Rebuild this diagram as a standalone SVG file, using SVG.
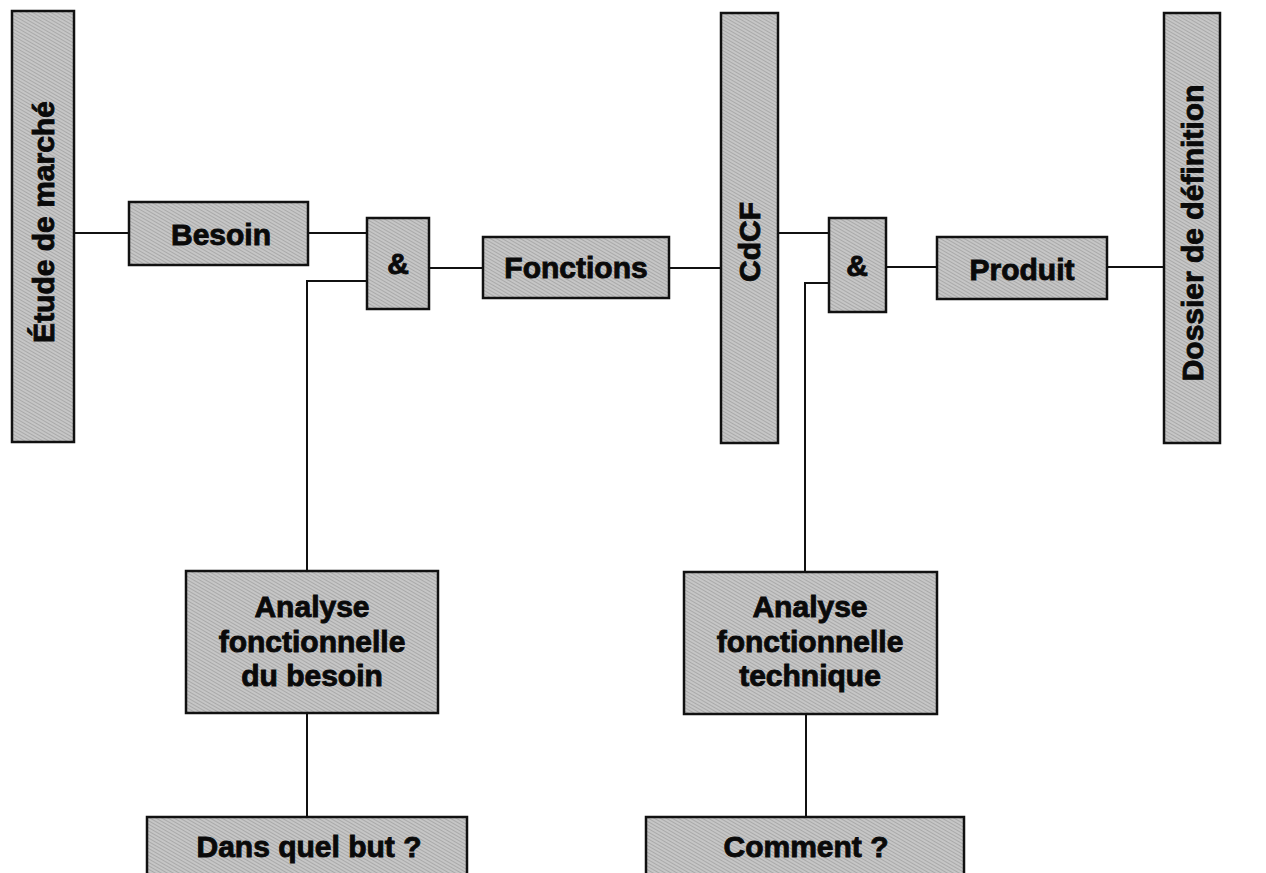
<svg xmlns="http://www.w3.org/2000/svg" width="1266" height="873" viewBox="0 0 1266 873">
<defs>
<pattern id="ht" width="3" height="3" patternUnits="userSpaceOnUse" patternTransform="rotate(30)">
<rect width="3" height="3" fill="#c6c6c6"/>
<rect width="3" height="1" fill="#a9a9a9"/>
</pattern>
</defs>
<style>
.box{fill:url(#ht);stroke:#111;stroke-width:2.5}
.t{font-family:"Liberation Sans",Arial,sans-serif;font-weight:bold;font-size:30px;fill:#0a0a0a;stroke:#0a0a0a;stroke-width:0.9;text-anchor:middle}
.c{fill:none;stroke:#111;stroke-width:2}
</style>
<rect width="1266" height="873" fill="#fff"/>
<g id="connectors">
<path class="c" d="M74 233H129"/>
<path class="c" d="M308 233H367"/>
<path class="c" d="M367 281H307V571"/>
<path class="c" d="M429 268H483"/>
<path class="c" d="M669 268H721"/>
<path class="c" d="M778 233H829"/>
<path class="c" d="M829 283H805V572"/>
<path class="c" d="M886 267H937"/>
<path class="c" d="M1107 267H1164"/>
<path class="c" d="M307 713V817"/>
<path class="c" d="M806 714V817"/>
</g>
<g id="etude"><rect class="box" x="12" y="11" width="62" height="431"/><text class="t" transform="translate(54,222) rotate(-90)">Étude de marché</text></g>
<g id="besoin"><rect class="box" x="129" y="202" width="179" height="63"/><text class="t" x="221" y="245">Besoin</text></g>
<g id="and1"><rect class="box" x="367" y="218" width="62" height="91"/><text class="t" x="398" y="274">&amp;</text></g>
<g id="fonctions"><rect class="box" x="483" y="237" width="186" height="61"/><text class="t" x="576" y="278">Fonctions</text></g>
<g id="cdcf"><rect class="box" x="721" y="13" width="57" height="430"/><text class="t" transform="translate(760,242) rotate(-90)">CdCF</text></g>
<g id="and2"><rect class="box" x="829" y="218" width="57" height="94"/><text class="t" x="857" y="276">&amp;</text></g>
<g id="produit"><rect class="box" x="937" y="237" width="170" height="62"/><text class="t" x="1022" y="280">Produit</text></g>
<g id="dossier"><rect class="box" x="1164" y="13" width="56" height="430"/><text class="t" transform="translate(1203,233) rotate(-90)">Dossier de définition</text></g>
<g id="afb"><rect class="box" x="186" y="571" width="252" height="142"/><text class="t" x="312" y="617">Analyse</text><text class="t" x="312" y="652">fonctionnelle</text><text class="t" x="312" y="686">du besoin</text></g>
<g id="aft"><rect class="box" x="684" y="572" width="253" height="142"/><text class="t" x="810" y="617">Analyse</text><text class="t" x="810" y="652">fonctionnelle</text><text class="t" x="810" y="686">technique</text></g>
<g id="but"><rect class="box" x="147" y="817" width="320" height="70"/><text class="t" x="309" y="857">Dans quel but ?</text></g>
<g id="comment"><rect class="box" x="646" y="817" width="318" height="70"/><text class="t" x="806" y="857">Comment ?</text></g>
</svg>
